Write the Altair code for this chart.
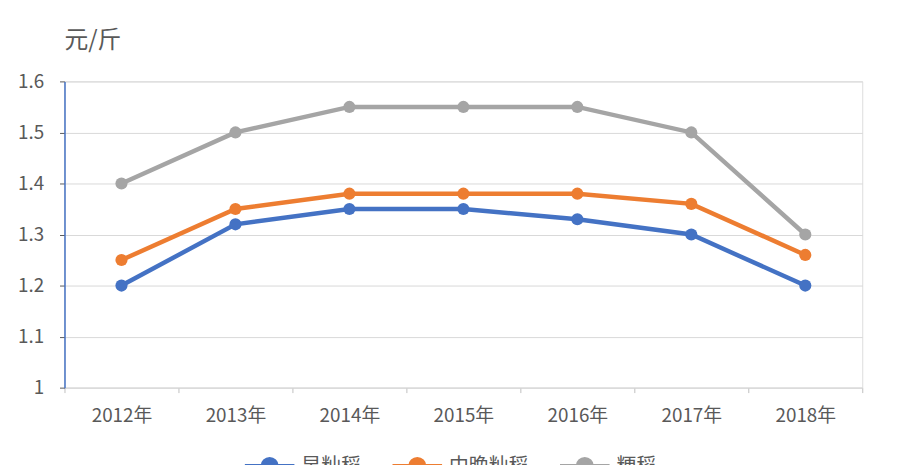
import altair as alt
import pandas as pd

years = ["2012年", "2013年", "2014年", "2015年", "2016年", "2017年", "2018年"]
series_names = ["早籼稻", "中晚籼稻", "粳稻"]
early = [1.20, 1.32, 1.35, 1.35, 1.33, 1.30, 1.20]
mid_late = [1.25, 1.35, 1.38, 1.38, 1.38, 1.36, 1.26]
japonica = [1.40, 1.50, 1.55, 1.55, 1.55, 1.50, 1.30]
colors = ["#4472C4", "#ED7D31", "#A5A5A5"]
y_ticks = [1.0, 1.1, 1.2, 1.3, 1.4, 1.5, 1.6]

rows = []
for name, vals in zip(series_names, [early, mid_late, japonica]):
    for y, v in zip(years, vals):
        rows.append({"year": y, "series": name, "price": v})
df = pd.DataFrame(rows)

FONT = "Noto Sans CJK SC"
sym = ("M -1 0 L 1 0 M -0.28 0 A 0.28 0.28 0 1 0 0.28 0 "
       "A 0.28 0.28 0 1 0 -0.28 0 Z")

color = alt.Color(
    "series:N",
    scale=alt.Scale(domain=series_names, range=colors),
    sort=series_names,
    legend=alt.Legend(
        title=None, orient="none", direction="horizontal",
        legendX=180, legendY=361, symbolType=sym, symbolSize=2500,
        symbolStrokeWidth=4, labelFontSize=20, labelColor="#595959",
        labelFont=FONT, columnPadding=24, labelOffset=5, padding=0,
    ),
)

x = alt.X(
    "year:O", sort=years, bandPosition=0.5,
    scale=alt.Scale(type="band", paddingInner=0, paddingOuter=0),
    axis=alt.Axis(title=None, tickBand="extent", labelAngle=0,
                  labelFontSize=19, labelColor="#595959", labelFont=FONT,
                  labelPadding=14, tickSize=5, tickColor="#BFBFBF",
                  domainColor="#D9D9D9", grid=False),
)
y = alt.Y(
    "price:Q",
    scale=alt.Scale(domain=[1.0, 1.6], nice=False, zero=False),
    axis=alt.Axis(title=None, values=y_ticks,
                  labelExpr="datum.value == 1 ? '1' : format(datum.value, '.1f')",
                  labelFontSize=19, labelColor="#595959", labelFont=FONT,
                  labelPadding=16, tickSize=5, tickColor="#595959",
                  domainColor="#4472C4", domainWidth=1.5,
                  gridColor="#D9D9D9", gridWidth=1),
)

base = alt.Chart(df)
lines = base.mark_line(strokeWidth=4.5).encode(x=x, y=y, color=color)
points = base.mark_point(filled=True, size=150, opacity=1).encode(
    x=x, y=y, color=color)

chart = (lines + points).properties(
    width=805, height=309,
    padding={"left": 57, "top": 72, "right": 30, "bottom": 76},
    autosize=alt.AutoSizeParams(type="none"),
    title=alt.Title("元/斤", anchor="start", frame="group", fontSize=24,
                    font=FONT, color="#595959", fontWeight="normal",
                    offset=20),
).configure_view(stroke=None).configure(font=FONT)

chart.save("out.html", embed_options={"renderer": "svg", "actions": False})
